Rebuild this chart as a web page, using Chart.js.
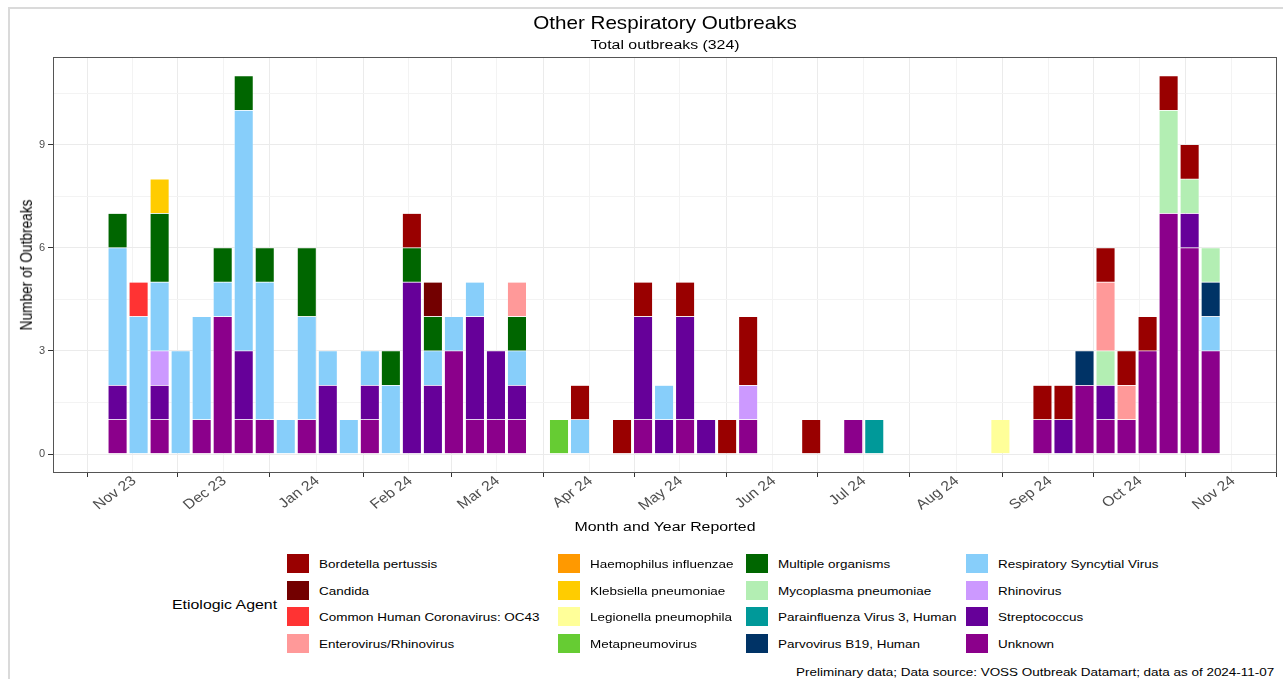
<!DOCTYPE html>
<html>
<head>
<meta charset="utf-8">
<title>Other Respiratory Outbreaks</title>
<script src="https://cdn.jsdelivr.net/npm/chart.js@4.4.1/dist/chart.umd.min.js"></script>
<style>
  html, body { margin: 0; padding: 0; background: #fff; }
  body { width: 1283px; height: 679px; position: relative; overflow: hidden; font-family: 'Liberation Sans', Arial, sans-serif; }
  #frame { position: absolute; left: 8px; top: 7px; width: 1400px; height: 800px; border-top: 2px solid #dadada; border-left: 2px solid #dadada; }
  #chartOutbreaks { position: absolute; left: 0; top: 0; }
  .txt { position: absolute; white-space: nowrap; line-height: 1; color: #000; }
  .key { position: absolute; width: 22px; height: 19px; }
</style>
</head>
<body>
<div id="frame"></div>
<canvas id="chartOutbreaks" width="1283" height="545"></canvas>
<script>
// semanas (data da semana) - 53 barras
const weeks = [
    '2023-11-03', '2023-11-10', '2023-11-17', '2023-11-24',
    '2023-12-01', '2023-12-08', '2023-12-15', '2023-12-22', '2023-12-29',
    '2024-01-05', '2024-01-12', '2024-01-19', '2024-01-26',
    '2024-02-02', '2024-02-09', '2024-02-16', '2024-02-23',
    '2024-03-01', '2024-03-08', '2024-03-15', '2024-03-22', '2024-03-29',
    '2024-04-05', '2024-04-12', '2024-04-19', '2024-04-26',
    '2024-05-03', '2024-05-10', '2024-05-17', '2024-05-24', '2024-05-31',
    '2024-06-07', '2024-06-14', '2024-06-21', '2024-06-28',
    '2024-07-05', '2024-07-12', '2024-07-19', '2024-07-26',
    '2024-08-02', '2024-08-09', '2024-08-16', '2024-08-23', '2024-08-30',
    '2024-09-06', '2024-09-13', '2024-09-20', '2024-09-27',
    '2024-10-04', '2024-10-11', '2024-10-18', '2024-10-25',
    '2024-11-01'
];

// ticks do eixo x
const monthTicks = ['2023-11-01', '2023-12-01', '2024-01-01', '2024-02-01', '2024-03-01', '2024-04-01',
    '2024-05-01', '2024-06-01', '2024-07-01', '2024-08-01', '2024-09-01', '2024-10-01', '2024-11-01'];
const monthLabels = ['Nov 23', 'Dec 23', 'Jan 24', 'Feb 24', 'Mar 24', 'Apr 24',
    'May 24', 'Jun 24', 'Jul 24', 'Aug 24', 'Sep 24', 'Oct 24', 'Nov 24'];
const yTicks = [0, 3, 6, 9];

const agents = ['Bordetella pertussis', 'Candida', 'Common Human Coronavirus: OC43', 'Enterovirus/Rhinovirus',
    'Haemophilus influenzae', 'Klebsiella pneumoniae', 'Legionella pneumophila', 'Metapneumovirus',
    'Multiple organisms', 'Mycoplasma pneumoniae', 'Parainfluenza Virus 3, Human', 'Parvovirus B19, Human',
    'Respiratory Syncytial Virus', 'Rhinovirus', 'Streptococcus', 'Unknown'];
const agentColors = ['#990000', '#730000', '#ff3333', '#ff9999',
    '#ff9900', '#ffcc00', '#ffff99', '#66cc33',
    '#006600', '#b3eeb3', '#009999', '#003366',
    '#87cefa', '#cc99ff', '#660099', '#8b008b'];

// surtos por semana, por agente
const bordetella = [0,0,0,0,0,0,0,0,0,0, 0,0,0,0,1,0,0,0,0,0, 0,0,1,0,1,1,0,1,0,1, 2,0,0,1,0,0,0,0,0,0, 0,0,0,0,1,1,0,1,1,1, 1,1,0];
const candida = [0,0,0,0,0,0,0,0,0,0, 0,0,0,0,0,1,0,0,0,0, 0,0,0,0,0,0,0,0,0,0, 0,0,0,0,0,0,0,0,0,0, 0,0,0,0,0,0,0,0,0,0, 0,0,0];
const coronavirus = [0,1,0,0,0,0,0,0,0,0, 0,0,0,0,0,0,0,0,0,0, 0,0,0,0,0,0,0,0,0,0, 0,0,0,0,0,0,0,0,0,0, 0,0,0,0,0,0,0,0,0,0, 0,0,0];
const enteroRhino = [0,0,0,0,0,0,0,0,0,0, 0,0,0,0,0,0,0,0,0,1, 0,0,0,0,0,0,0,0,0,0, 0,0,0,0,0,0,0,0,0,0, 0,0,0,0,0,0,0,2,1,0, 0,0,0];
const haemophilus = [0,0,0,0,0,0,0,0,0,0, 0,0,0,0,0,0,0,0,0,0, 0,0,0,0,0,0,0,0,0,0, 0,0,0,0,0,0,0,0,0,0, 0,0,0,0,0,0,0,0,0,0, 0,0,0];
const klebsiella = [0,0,1,0,0,0,0,0,0,0, 0,0,0,0,0,0,0,0,0,0, 0,0,0,0,0,0,0,0,0,0, 0,0,0,0,0,0,0,0,0,0, 0,0,0,0,0,0,0,0,0,0, 0,0,0];
const legionella = [0,0,0,0,0,0,0,0,0,0, 0,0,0,0,0,0,0,0,0,0, 0,0,0,0,0,0,0,0,0,0, 0,0,0,0,0,0,0,0,0,0, 0,0,1,0,0,0,0,0,0,0, 0,0,0];
const metapneumo = [0,0,0,0,0,0,0,0,0,0, 0,0,0,0,0,0,0,0,0,0, 0,1,0,0,0,0,0,0,0,0, 0,0,0,0,0,0,0,0,0,0, 0,0,0,0,0,0,0,0,0,0, 0,0,0];
const multiple = [1,0,2,0,0,1,1,1,0,2, 0,0,0,1,1,1,0,0,0,1, 0,0,0,0,0,0,0,0,0,0, 0,0,0,0,0,0,0,0,0,0, 0,0,0,0,0,0,0,0,0,0, 0,0,0];
const mycoplasma = [0,0,0,0,0,0,0,0,0,0, 0,0,0,0,0,0,0,0,0,0, 0,0,0,0,0,0,0,0,0,0, 0,0,0,0,0,0,0,0,0,0, 0,0,0,0,0,0,0,1,0,0, 3,1,1];
const parainfluenza = [0,0,0,0,0,0,0,0,0,0, 0,0,0,0,0,0,0,0,0,0, 0,0,0,0,0,0,0,0,0,0, 0,0,0,0,0,0,1,0,0,0, 0,0,0,0,0,0,0,0,0,0, 0,0,0];
const parvovirus = [0,0,0,0,0,0,0,0,0,0, 0,0,0,0,0,0,0,0,0,0, 0,0,0,0,0,0,0,0,0,0, 0,0,0,0,0,0,0,0,0,0, 0,0,0,0,0,0,1,0,0,0, 0,0,1];
const rsv = [4,4,2,3,3,1,7,4,1,3, 1,1,1,2,0,1,1,1,0,1, 0,0,1,0,0,0,1,0,0,0, 0,0,0,0,0,0,0,0,0,0, 0,0,0,0,0,0,0,0,0,0, 0,0,1];
const rhinovirus = [0,0,1,0,0,0,0,0,0,0, 0,0,0,0,0,0,0,0,0,0, 0,0,0,0,0,0,0,0,0,0, 1,0,0,0,0,0,0,0,0,0, 0,0,0,0,0,0,0,0,0,0, 0,0,0];
const streptococcus = [1,0,1,0,0,0,2,0,0,0, 2,0,1,0,5,2,0,3,2,1, 0,0,0,0,0,3,1,3,1,0, 0,0,0,0,0,0,0,0,0,0, 0,0,0,0,0,1,0,1,0,0, 0,1,0];
const unknown = [1,0,1,0,1,4,1,1,0,1, 0,0,1,0,0,0,3,1,1,1, 0,0,0,0,0,1,0,1,0,0, 1,0,0,0,0,1,0,0,0,0, 0,0,0,0,1,0,2,1,1,3, 7,6,3];

const seriesByAgent = [bordetella, candida, coronavirus, enteroRhino, haemophilus, klebsiella, legionella, metapneumo,
    multiple, mycoplasma, parainfluenza, parvovirus, rsv, rhinovirus, streptococcus, unknown];

// dias desde 1 nov 2023
const DAY = 86400000;
const origin = Date.parse('2023-11-01');
const dayOf = d => (Date.parse(d) - origin) / DAY;

const FONT = "'Liberation Sans', Arial, sans-serif";
const SX = 1.16; // a imagem original é esticada na horizontal

// ticks principais + secundários (meio do mês), como no ggplot
function buildXTicks() {
    const major = monthTicks.map((d, i) => ({ value: dayOf(d), text: monthLabels[i] }));
    const out = [];
    const first = major[0].value, second = major[1].value;
    out.push({ value: first - (second - first) / 2, minor: true });
    major.forEach((t, i) => {
        out.push(t);
        const next = major[i + 1] ? major[i + 1].value : t.value + 30;
        out.push({ value: (t.value + next) / 2, minor: true });
    });
    return out;
}
function buildYTicks() {
    const out = [];
    yTicks.forEach(v => {
        out.push({ value: v });
        out.push({ value: v + 1.5, minor: true });
    });
    return out;
}

// o último agente (Unknown) fica na base da pilha
const datasets = agents.map((name, i) => ({
    label: name,
    data: weeks.map((w, k) => ({ x: dayOf(w) + 0.5, y: seriesByAgent[i][k] }))
               .filter(p => p.y > 0),
    backgroundColor: agentColors[i],
    borderColor: '#ffffff',
    borderWidth: 0.4,
    borderSkipped: false,
    barPercentage: 0.9,
    categoryPercentage: 1.0
})).reverse();

const gridColor = c => (c.tick && c.tick.minor) ? '#f3f3f3' : '#ebebeb';
const tickColor = c => (c.tick && c.tick.minor) ? 'rgba(0,0,0,0)' : '#333333';

// borda do painel
const panelBorder = {
    id: 'panelBorder',
    afterDraw(chart) {
        const { ctx, chartArea: a } = chart;
        ctx.save();
        ctx.strokeStyle = '#555555';
        ctx.lineWidth = 1;
        ctx.strokeRect(a.left + 0.5, a.top + 0.5, a.width - 1, a.height - 1);
        ctx.restore();
    }
};

// rótulos dos meses, inclinados
const monthTickLabels = {
    id: 'monthTickLabels',
    afterDraw(chart) {
        const { ctx, scales: { x } } = chart;
        ctx.save();
        ctx.font = '13.7px ' + FONT;
        ctx.fillStyle = '#4d4d4d';
        ctx.textAlign = 'right';
        ctx.textBaseline = 'alphabetic';
        x.ticks.forEach(t => {
            if (t.minor) return;
            const px = x.getPixelForValue(t.value);
            ctx.setTransform(SX, 0, 0, 1, px + 27, 482);
            ctx.rotate(-40 * Math.PI / 180);
            ctx.fillText(t.text, 0, 0);
        });
        ctx.restore();
    }
};

new Chart(document.getElementById('chartOutbreaks'), {
    type: 'bar',
    data: { datasets: datasets },
    options: {
        responsive: false,
        animation: false,
        devicePixelRatio: 1,
        layout: { padding: { top: 57, left: 0, right: 6, bottom: 0 } },
        plugins: {
            legend: { display: false },
            tooltip: { enabled: false },
            title: { display: false }
        },
        scales: {
            x: {
                type: 'linear',
                stacked: true,
                offset: false,
                min: -19,
                max: 388.6,
                afterBuildTicks: scale => { scale.ticks = buildXTicks(); },
                afterFit: scale => { scale.height = 72; },
                ticks: { display: false, autoSkip: false },
                grid: { color: gridColor, tickColor: tickColor, tickLength: 4, lineWidth: 1 },
                border: { display: false }
            },
            y: {
                stacked: true,
                min: -0.55,
                max: 11.55,
                afterBuildTicks: scale => { scale.ticks = buildYTicks(); },
                afterFit: scale => { scale.width = 53; },
                ticks: {
                    autoSkip: false,
                    padding: 3,
                    color: '#4d4d4d',
                    font: { family: FONT, size: 11 },
                    callback: (v, i, t) => t[i].minor ? '' : String(v)
                },
                grid: { color: gridColor, tickColor: tickColor, tickLength: 5, lineWidth: 1 },
                border: { display: false }
            }
        }
    },
    plugins: [panelBorder, monthTickLabels]
});

// textos em HTML
function addText(str, x, y, size, align, extra) {
    const el = document.createElement('div');
    el.className = 'txt';
    el.textContent = str;
    el.style.fontSize = size + 'px';
    el.style.top = (y - 0.49 * size) + 'px';
    if (align === 'center') {
        el.style.left = x + 'px';
        el.style.transformOrigin = '50% 50%';
        el.style.transform = 'translateX(-50%) scaleX(' + SX + ')';
    } else if (align === 'right') {
        el.style.right = (1283 - x) + 'px';
        el.style.transformOrigin = '100% 50%';
        el.style.transform = 'scaleX(' + SX + ')';
    } else {
        el.style.left = x + 'px';
        el.style.transformOrigin = '0 50%';
        el.style.transform = 'scaleX(' + SX + ')';
    }
    if (extra) Object.assign(el.style, extra);
    document.body.appendChild(el);
    return el;
}

addText('Other Respiratory Outbreaks', 665, 24.2, 17.8, 'center');
addText('Total outbreaks (324)', 665, 44.3, 13.7, 'center');
addText('Month and Year Reported', 665, 527, 13.7, 'center');

// título do eixo y (rodado)
const yTitle = document.createElement('div');
yTitle.className = 'txt';
yTitle.textContent = 'Number of Outbreaks';
yTitle.style.fontSize = '13.7px';
yTitle.style.left = '27px';
yTitle.style.top = '265px';
yTitle.style.transformOrigin = '50% 50%';
yTitle.style.transform = 'translate(-50%, -50%) scaleX(' + SX + ') rotate(-90deg)';
document.body.appendChild(yTitle);

// legenda (4 colunas, preenchida por coluna)
addText('Etiologic Agent', 172, 605, 13.7, 'left');
const legendCols = [287, 558, 746, 966];
agents.forEach((name, i) => {
    const col = Math.floor(i / 4), row = i % 4;
    const kx = legendCols[col];
    const cy = 563.8 + row * 26.5;
    const key = document.createElement('div');
    key.className = 'key';
    key.style.left = kx + 'px';
    key.style.top = (cy - 9.5) + 'px';
    key.style.background = agentColors[i];
    document.body.appendChild(key);
    addText(name, kx + 32, cy, 11.6, 'left');
});

addText('Preliminary data; Data source: VOSS Outbreak Datamart; data as of 2024-11-07', 1274, 672, 11.6, 'right');
</script>
</body>
</html>
